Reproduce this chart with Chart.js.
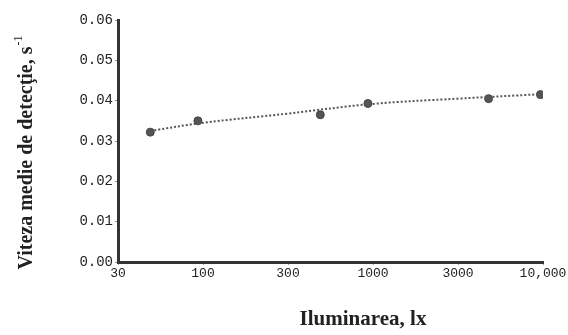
<!DOCTYPE html>
<html>
<head>
<meta charset="utf-8">
<script src="https://cdn.jsdelivr.net/npm/chart.js"></script>
<style>
  html, body { margin: 0; padding: 0; background: #fff; }
  #wrap { width: 568px; height: 335px; }
</style>
</head>
<body>
<div id="wrap"><canvas id="chart"></canvas></div>
<script>
// x axis: evenly spaced illuminance steps, positions are indexes into xLabels
var xLabels = ['30', '100', '300', '1000', '3000', '10,000'];
var yTicks = [0, 0.01, 0.02, 0.03, 0.04, 0.05, 0.06];

// measured points (x as position on the index axis)
var pointX = [0.38, 0.94, 2.38, 2.94, 4.36, 4.97];
var pointY = [0.0322, 0.0350, 0.0365, 0.0393, 0.0405, 0.0415];

// trend line
var trendX = [0.38, 1.0, 2.0, 3.0, 4.0, 4.97];
var trendY = [0.0325, 0.0345, 0.0368, 0.0392, 0.0405, 0.0416];

var yTitle = 'Viteza medie de detecţie, s';
var yTitleSup = '-1';
var xTitle = 'Iluminarea, lx';

function toXY(xs, ys) {
  var out = [];
  for (var i = 0; i < xs.length; i++) out.push({x: xs[i], y: ys[i]});
  return out;
}

// axis titles drawn by hand so they sit where the scan has them
var titlePlugin = {
  id: 'titles',
  afterDraw: function(chart) {
    var ctx = chart.ctx;
    ctx.save();
    ctx.fillStyle = '#222';
    ctx.textBaseline = 'middle';

    ctx.font = 'bold 21px "Liberation Serif"';
    ctx.textAlign = 'center';
    ctx.fillText(xTitle, 363, 320);

    ctx.translate(27, 153);
    ctx.rotate(-Math.PI / 2);
    ctx.font = 'bold 20px "Liberation Serif"';
    var w = ctx.measureText(yTitle).width;
    ctx.font = '12px "Liberation Serif"';
    var ws = ctx.measureText(yTitleSup).width;
    var start = -(w + ws) / 2;
    ctx.textAlign = 'left';
    ctx.font = 'bold 20px "Liberation Serif"';
    ctx.fillText(yTitle, start, 0);
    ctx.font = '12px "Liberation Serif"';
    ctx.fillText(yTitleSup, start + w + 1, -8);
    ctx.restore();
  }
};

var ctx = document.getElementById('chart');
var chart = new Chart(ctx, {
  type: 'scatter',
  data: {
    datasets: [
      {
        label: 'trend',
        data: toXY(trendX, trendY),
        showLine: true,
        borderColor: '#555',
        borderWidth: 2,
        borderDash: [2, 2],
        tension: 0.4,
        pointRadius: 0
      },
      {
        label: 'measured',
        data: toXY(pointX, pointY),
        backgroundColor: '#555',
        borderColor: '#444',
        pointRadius: 4
      }
    ]
  },
  options: {
    responsive: true,
    maintainAspectRatio: false,
    animation: false,
    layout: { padding: { top: 20, right: 25, left: 0, bottom: 0 } },
    plugins: {
      legend: { display: false },
      tooltip: { enabled: false }
    },
    scales: {
      x: {
        type: 'linear',
        min: 0,
        max: 5,
        afterFit: function(scale) { scale.height = 73; },
        afterBuildTicks: function(scale) {
          scale.ticks = xLabels.map(function(l, i) { return {value: i}; });
        },
        ticks: {
          padding: 1,
          color: '#222',
          font: { family: '"Liberation Mono"', size: 13 },
          maxRotation: 0,
          callback: function(v) { return xLabels[v]; }
        },
        grid: { drawOnChartArea: false, tickLength: 3, color: '#999' },
        border: { display: true, color: '#333', width: 3 }
      },
      y: {
        min: 0,
        max: 0.06,
        afterFit: function(scale) { scale.width = 118; },
        afterBuildTicks: function(scale) {
          scale.ticks = yTicks.map(function(v) { return {value: v}; });
        },
        ticks: {
          padding: 2,
          color: '#222',
          font: { family: '"Liberation Mono"', size: 14 },
          callback: function(v) { return v.toFixed(2); }
        },
        grid: { drawOnChartArea: false, tickLength: 3, color: '#999' },
        border: { display: true, color: '#333', width: 3 }
      }
    }
  },
  plugins: [titlePlugin]
});
</script>
</body>
</html>
